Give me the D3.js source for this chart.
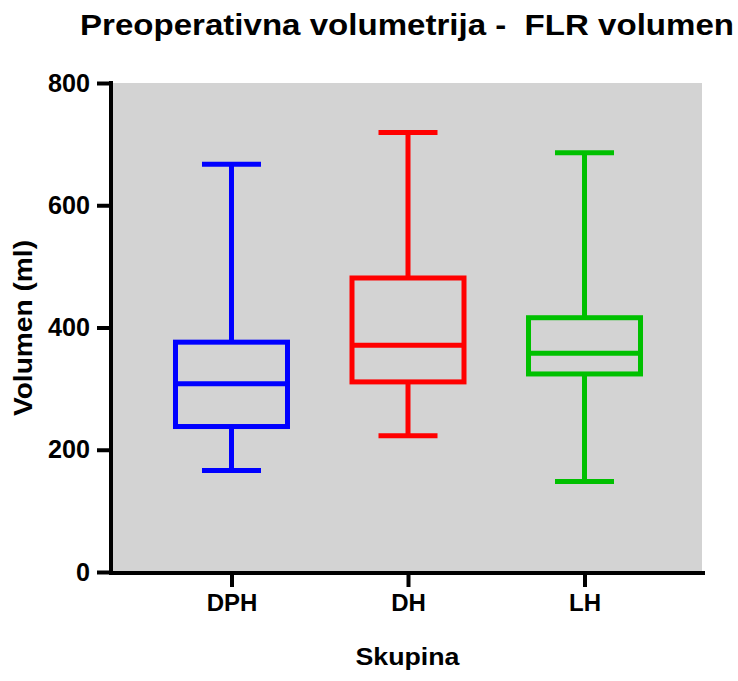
<!DOCTYPE html>
<html><head><meta charset="utf-8">
<script src="https://cdn.jsdelivr.net/npm/d3@7"></script>
<style>body{margin:0;background:#fff}svg{display:block}text{font-family:"Liberation Sans",Arial,sans-serif;font-weight:bold}</style>
</head><body><svg id="c" width="738" height="681"></svg>
<script>
const categories = ["DPH", "DH", "LH"];
const colors = ["#0000ff", "#ff0000", "#00c000"];
const whiskerLow = [166, 223, 148];
const q1 = [238, 311, 324];
const median = [308, 371, 358];
const q3 = [376, 481, 416];
const whiskerHigh = [667, 719, 686];
const yTicks = [0, 200, 400, 600, 800];
const title = "Preoperativna volumetrija -  FLR volumen";
const xTitle = "Skupina";
const yTitle = "Volumen (ml)";

const svg = d3.select("#c");
const x = d3.scalePoint().domain(categories).range([112, 704]).padding(0.677);
const y = d3.scaleLinear().domain([0, 800]).range([572, 83]);

svg.append("rect").attr("x", 112).attr("y", y(800)).attr("width", 702 - 112).attr("height", y(0) - y(800)).attr("fill", "#d3d3d3");

const yAxis = svg.append("g").attr("transform", "translate(111,0)")
  .call(d3.axisLeft(y).tickValues(yTicks).tickSize(14).tickPadding(7).tickFormat(d3.format("d")));
const xAxis = svg.append("g").attr("transform", `translate(0,${y(0)})`)
  .call(d3.axisBottom(x).tickSize(15).tickPadding(7));
[yAxis, xAxis].forEach(g => {
  g.selectAll("line").attr("stroke", "#000").attr("stroke-width", 4);
  g.selectAll("text").attr("fill", "#000").style("font-size", "25px").style("font-weight", "bold").style("font-family", '"Liberation Sans",Arial,sans-serif');
  g.select(".domain").remove();
});
yAxis.selectAll("text").attr("textLength", d => String(d).length * 14).attr("lengthAdjust", "spacingAndGlyphs");
xAxis.selectAll("text").style("font-size", "24px");
svg.append("line").attr("x1", 111).attr("x2", 111).attr("y1", y(800) - 2).attr("y2", y(0) + 2).attr("stroke", "#000").attr("stroke-width", 4);
svg.append("line").attr("x1", 109).attr("x2", 705).attr("y1", y(0) + 1).attr("y2", y(0) + 1).attr("stroke", "#000").attr("stroke-width", 4);

const boxW = 112, capW = 59, sw = 5;
categories.forEach((c, i) => {
  const g = svg.append("g").attr("stroke", colors[i]).attr("stroke-width", sw).attr("fill", "none");
  const cx = x(c);
  g.append("line").attr("x1", cx).attr("x2", cx).attr("y1", y(whiskerHigh[i])).attr("y2", y(q3[i]));
  g.append("line").attr("x1", cx).attr("x2", cx).attr("y1", y(q1[i])).attr("y2", y(whiskerLow[i]));
  g.append("line").attr("x1", cx - capW / 2).attr("x2", cx + capW / 2).attr("y1", y(whiskerHigh[i])).attr("y2", y(whiskerHigh[i]));
  g.append("line").attr("x1", cx - capW / 2).attr("x2", cx + capW / 2).attr("y1", y(whiskerLow[i])).attr("y2", y(whiskerLow[i]));
  g.append("rect").attr("x", cx - boxW / 2).attr("width", boxW).attr("y", y(q3[i])).attr("height", y(q1[i]) - y(q3[i]));
  g.append("line").attr("x1", cx - boxW / 2).attr("x2", cx + boxW / 2).attr("y1", y(median[i])).attr("y2", y(median[i]));
});

svg.append("text").attr("x", 80).attr("y", 35).style("font-size", "29px").style("white-space", "pre")
  .attr("textLength", 654).attr("lengthAdjust", "spacingAndGlyphs").text(title);
svg.append("text").attr("x", 407.5).attr("y", 665).attr("text-anchor", "middle").style("font-size", "24px")
  .attr("textLength", 104).attr("lengthAdjust", "spacingAndGlyphs").text(xTitle);
svg.append("text").attr("transform", "translate(32,328) rotate(-90)").attr("text-anchor", "middle").style("font-size", "25px")
  .attr("textLength", 176).attr("lengthAdjust", "spacingAndGlyphs").text(yTitle);
</script></body></html>
